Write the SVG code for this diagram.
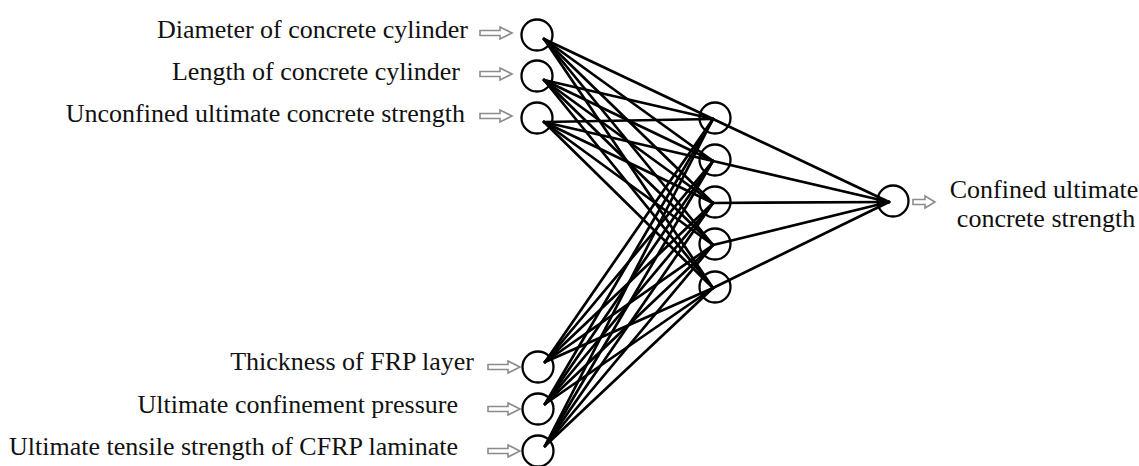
<svg xmlns="http://www.w3.org/2000/svg" width="1139" height="466" viewBox="0 0 1139 466">
<defs>
<style>
.lbl{font-family:"Liberation Serif","Times New Roman",serif;font-size:26px;fill:#111}
.node{fill:none;stroke:#000;stroke-width:2.3}
.conn line{stroke:#000;stroke-width:2.7;stroke-linecap:round}
.arr{fill:#fff;stroke:#8c8c8c;stroke-width:1.6;stroke-linejoin:miter}
</style>
<path id="inArrow" d="M0,-2.5 H20 V-6 L32,0 L20,6 V2.5 H0 Z"/>
<path id="outArrow" d="M0,-2.5 H12 V-6 L22,0 L12,6 V2.5 H0 Z"/>
</defs>
<rect width="1139" height="466" fill="#fff"/>
<g id="connectors" class="conn">
<!-- input 1 -->
<line x1="544" y1="39" x2="713" y2="119"/><line x1="544" y1="39" x2="713" y2="161"/><line x1="544" y1="39" x2="713" y2="203"/><line x1="544" y1="39" x2="713" y2="245"/><line x1="544" y1="39" x2="713" y2="288"/>
<!-- input 2 -->
<line x1="544" y1="80" x2="713" y2="119"/><line x1="544" y1="80" x2="713" y2="161"/><line x1="544" y1="80" x2="713" y2="203"/><line x1="544" y1="80" x2="713" y2="245"/><line x1="544" y1="80" x2="713" y2="288"/>
<!-- input 3 -->
<line x1="544" y1="122" x2="713" y2="119"/><line x1="544" y1="122" x2="713" y2="161"/><line x1="544" y1="122" x2="713" y2="203"/><line x1="544" y1="122" x2="713" y2="245"/><line x1="544" y1="122" x2="713" y2="288"/>
<!-- input 4 -->
<line x1="545" y1="362" x2="713" y2="119"/><line x1="545" y1="362" x2="713" y2="161"/><line x1="545" y1="362" x2="713" y2="203"/><line x1="545" y1="362" x2="713" y2="245"/><line x1="545" y1="362" x2="713" y2="288"/>
<!-- input 5 -->
<line x1="545" y1="404" x2="713" y2="119"/><line x1="545" y1="404" x2="713" y2="161"/><line x1="545" y1="404" x2="713" y2="203"/><line x1="545" y1="404" x2="713" y2="245"/><line x1="545" y1="404" x2="713" y2="288"/>
<!-- input 6 -->
<line x1="545" y1="446" x2="713" y2="119"/><line x1="545" y1="446" x2="713" y2="161"/><line x1="545" y1="446" x2="713" y2="203"/><line x1="545" y1="446" x2="713" y2="245"/><line x1="545" y1="446" x2="713" y2="288"/>
<!-- hidden to output -->
<line x1="713" y1="119" x2="889" y2="202"/><line x1="713" y1="161" x2="889" y2="202"/><line x1="713" y1="203" x2="889" y2="202"/><line x1="713" y1="245" x2="889" y2="202"/><line x1="713" y1="288" x2="889" y2="202"/>
</g>
<g id="in1"><use href="#inArrow" class="arr" x="480" y="33"/><circle class="node" cx="537" cy="35" r="15.5"/><text class="lbl" x="468" y="38" text-anchor="end">Diameter of concrete cylinder</text></g>
<g id="in2"><use href="#inArrow" class="arr" x="480" y="74"/><circle class="node" cx="537" cy="76" r="15.5"/><text class="lbl" x="460" y="80" text-anchor="end">Length of concrete cylinder</text></g>
<g id="in3"><use href="#inArrow" class="arr" x="480" y="116"/><circle class="node" cx="537" cy="118" r="15.5"/><text class="lbl" x="465" y="122" text-anchor="end">Unconfined ultimate concrete strength</text></g>
<g id="in4"><use href="#inArrow" class="arr" x="488" y="367"/><circle class="node" cx="538" cy="367" r="15.5"/><text class="lbl" x="474" y="370" text-anchor="end">Thickness of FRP layer</text></g>
<g id="in5"><use href="#inArrow" class="arr" x="488" y="409"/><circle class="node" cx="538" cy="409" r="15.5"/><text class="lbl" x="458" y="413" text-anchor="end">Ultimate confinement pressure</text></g>
<g id="in6"><use href="#inArrow" class="arr" x="488" y="451"/><circle class="node" cx="538" cy="451" r="15.5"/><text class="lbl" x="458" y="455" text-anchor="end">Ultimate tensile strength of CFRP laminate</text></g>
<g id="h1"><circle class="node" cx="715" cy="118" r="15.5"/></g>
<g id="h2"><circle class="node" cx="715" cy="160" r="15.5"/></g>
<g id="h3"><circle class="node" cx="715" cy="202" r="15.5"/></g>
<g id="h4"><circle class="node" cx="715" cy="244" r="15.5"/></g>
<g id="h5"><circle class="node" cx="715" cy="287" r="15.5"/></g>
<g id="out"><circle class="node" cx="893" cy="201" r="15.5"/><use href="#outArrow" class="arr" x="913" y="202"/><text class="lbl" x="1044" y="198" text-anchor="middle">Confined ultimate</text><text class="lbl" x="1046" y="227" text-anchor="middle">concrete strength</text></g>
</svg>
